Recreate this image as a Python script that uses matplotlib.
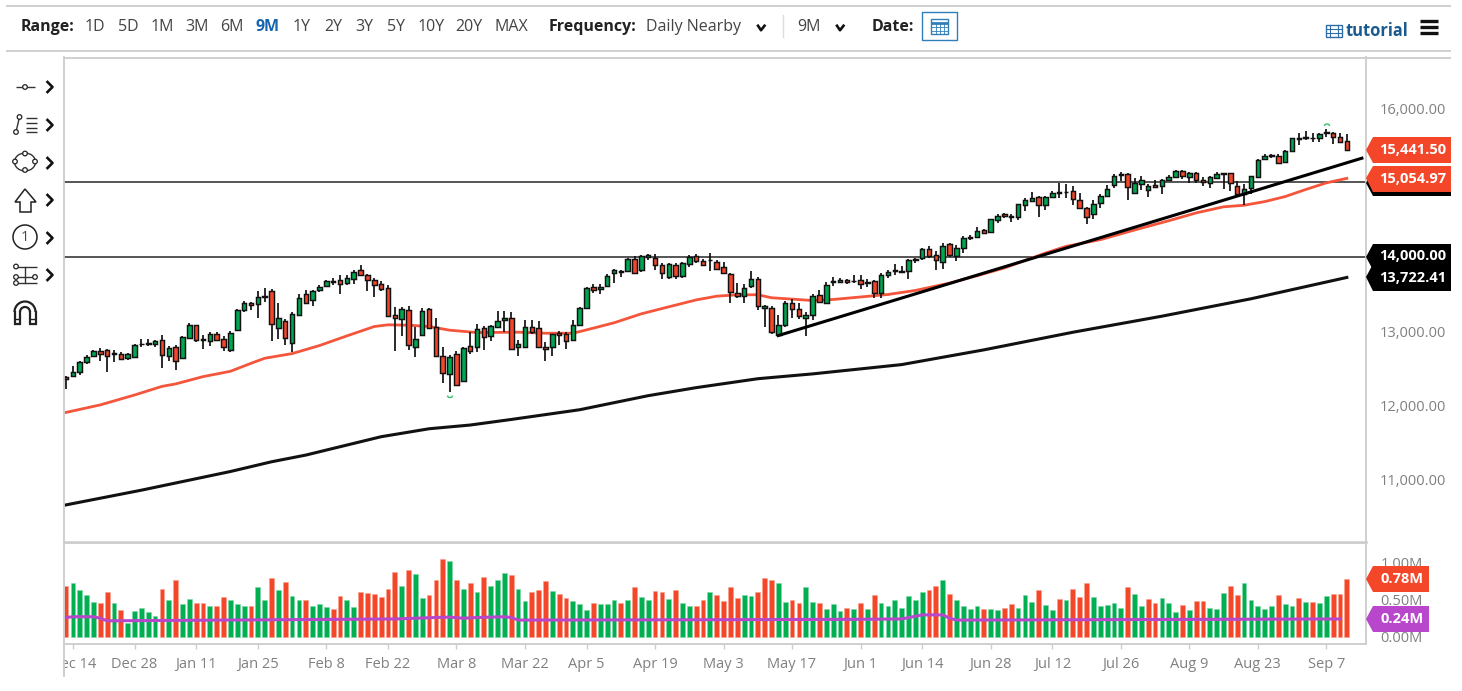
import matplotlib
matplotlib.use('Agg')
import matplotlib.pyplot as plt
from matplotlib.patches import Polygon, Rectangle, Circle, Ellipse, Arc
from matplotlib.transforms import Bbox

plt.rcParams['font.family'] = ['Open Sans', 'DejaVu Sans']

opens = [12380, 12393, 12456, 12586, 12667, 12730, 12748, 12703, 12694, 12645,
         12658, 12833, 12842, 12824, 12878, 12667, 12784, 12640, 12914, 13080,
         12896, 12865, 12959, 12896, 12752, 13017, 13278, 13381, 13368, 13471,
         13543, 13040, 13143, 12838, 13219, 13493, 13417, 13547, 13610, 13668,
         13691, 13650, 13700, 13817, 13749, 13691, 13628, 13574, 13215, 13161,
         13291, 12784, 12946, 13300, 13053, 12667, 12420, 12699, 12330, 12797,
         12784, 13040, 12937, 13054, 13148, 13175, 12784, 12793, 13054, 13036,
         12789, 12789, 12969, 12960, 12883, 13081, 13314, 13592, 13570, 13606,
         13781, 13808, 13808, 13970, 13817, 13992, 13979, 13889, 13727, 13889,
         13745, 13907, 14010, 13943, 13961, 13934, 13867, 13772, 13512, 13471,
         13601, 13705, 13309, 13314, 12950, 13076, 13372, 13292, 13175, 13211,
         13480, 13372, 13673, 13660, 13691, 13678, 13687, 13660, 13669, 13512,
         13759, 13817, 13808, 13803, 13974, 13979, 14100, 14024, 13925, 14172,
         14006, 14122, 14266, 14266, 14361, 14338, 14491, 14572, 14545, 14531,
         14693, 14756, 14801, 14698, 14810, 14873, 14877, 14891, 14769, 14662,
         14581, 14720, 14823, 14967, 15115, 15120, 14864, 14976, 14895, 14967,
         14954, 15030, 15075, 15156, 15079, 15124, 15039, 14998, 15066, 15129,
         15129, 14958, 14841, 14931, 15079, 15313, 15371, 15362, 15272, 15425,
         15600, 15605, 15600, 15591, 15672, 15663, 15605, 15555]
closes = [12357, 12447, 12582, 12658, 12739, 12694, 12667, 12694, 12631, 12690,
          12820, 12829, 12833, 12869, 12676, 12779, 12604, 12919, 13089, 12883,
          12887, 12959, 12887, 12784, 12973, 13287, 13381, 13350, 13457, 13457,
          13094, 13174, 12901, 13224, 13439, 13381, 13538, 13588, 13673, 13659,
          13633, 13718, 13799, 13758, 13686, 13623, 13565, 13210, 13179, 13296,
          12820, 12896, 13269, 13044, 12667, 12442, 12654, 12276, 12775, 12730,
          13031, 12919, 13063, 13130, 13180, 12766, 12829, 13054, 12986, 12784,
          12757, 12955, 12942, 12870, 13076, 13310, 13579, 13556, 13592, 13741,
          13821, 13799, 13970, 13786, 14006, 14019, 13894, 13781, 13907, 13741,
          13916, 13997, 13943, 13885, 13952, 13835, 13777, 13525, 13471, 13583,
          13696, 13341, 13332, 12986, 13085, 13372, 13296, 13197, 13220, 13471,
          13395, 13624, 13660, 13691, 13655, 13669, 13637, 13651, 13512, 13759,
          13795, 13804, 13799, 13952, 13952, 14109, 14006, 13952, 14149, 14019,
          14122, 14253, 14257, 14343, 14320, 14504, 14554, 14545, 14536, 14706,
          14769, 14792, 14698, 14801, 14859, 14864, 14868, 14778, 14657, 14531,
          14711, 14819, 14918, 15093, 15102, 14940, 14998, 15030, 14949, 14940,
          15034, 15070, 15156, 15088, 15124, 15039, 15003, 15070, 15120, 15120,
          14994, 14841, 14918, 15084, 15299, 15353, 15362, 15263, 15425, 15591,
          15578, 15591, 15591, 15645, 15663, 15614, 15546, 15441.5]
highs = [12393, 12528, 12604, 12685, 12752, 12770, 12761, 12748, 12717, 12703,
         12829, 12896, 12892, 12883, 12946, 12802, 12820, 12937, 13112, 13089,
         12950, 12986, 12995, 12928, 13008, 13300, 13403, 13390, 13538, 13583,
         13570, 13377, 13166, 13255, 13502, 13556, 13556, 13624, 13682, 13713,
         13749, 13749, 13817, 13893, 13772, 13718, 13673, 13615, 13323, 13323,
         13332, 13062, 13314, 13314, 13174, 12784, 12685, 12739, 12784, 12986,
         13098, 13067, 13076, 13269, 13265, 13256, 12883, 13144, 13153, 13135,
         12852, 12964, 12996, 12987, 13153, 13323, 13592, 13637, 13628, 13763,
         13840, 13826, 13983, 14006, 14028, 14042, 14033, 13916, 13916, 13920,
         13929, 14028, 14042, 13974, 14051, 13952, 13929, 13786, 13646, 13637,
         13808, 13727, 13345, 13332, 13211, 13404, 13435, 13377, 13256, 13503,
         13547, 13660, 13727, 13714, 13705, 13750, 13759, 13705, 13691, 13781,
         13817, 13907, 13871, 13974, 13988, 14122, 14140, 14077, 14185, 14190,
         14154, 14275, 14298, 14401, 14379, 14513, 14572, 14590, 14572, 14715,
         14796, 14873, 14814, 14814, 14882, 14994, 14985, 14958, 14859, 14671,
         14769, 14850, 14963, 15120, 15138, 15129, 15066, 15084, 14976, 15039,
         15052, 15097, 15165, 15165, 15138, 15138, 15075, 15084, 15138, 15129,
         15129, 15021, 14976, 15093, 15317, 15380, 15389, 15376, 15434, 15600,
         15668, 15690, 15668, 15668, 15713, 15681, 15668, 15658]
lows = [12223, 12380, 12411, 12559, 12658, 12595, 12447, 12582, 12613, 12618,
        12649, 12793, 12806, 12793, 12505, 12595, 12478, 12627, 12905, 12860,
        12757, 12806, 12874, 12730, 12716, 13008, 13264, 13287, 13179, 13390,
        12874, 12896, 12815, 12716, 13210, 13368, 13332, 13525, 13601, 13615,
        13502, 13615, 13637, 13736, 13534, 13457, 13538, 13201, 12739, 12941,
        12752, 12649, 12937, 13035, 12658, 12299, 12182, 12267, 12321, 12694,
        12716, 12753, 12865, 13045, 12986, 12753, 12672, 12784, 12955, 12775,
        12605, 12672, 12807, 12762, 12874, 13076, 13292, 13516, 13503, 13592,
        13646, 13727, 13795, 13772, 13795, 13952, 13817, 13705, 13705, 13696,
        13714, 13862, 13916, 13871, 13808, 13817, 13763, 13377, 13449, 13377,
        13583, 13287, 13054, 12964, 12928, 13054, 13175, 13166, 12937, 13144,
        13377, 13359, 13601, 13646, 13628, 13651, 13570, 13592, 13444, 13449,
        13718, 13750, 13790, 13705, 13916, 13952, 13988, 13817, 13830, 13997,
        13943, 14055, 14221, 14257, 14302, 14329, 14455, 14527, 14464, 14500,
        14612, 14738, 14536, 14635, 14796, 14787, 14796, 14702, 14648, 14437,
        14513, 14662, 14814, 14927, 15021, 14769, 14850, 14904, 14805, 14931,
        14841, 15017, 15066, 15043, 14994, 14994, 14958, 14931, 15052, 14913,
        14886, 14814, 14693, 14850, 15070, 15299, 15335, 15254, 15263, 15416,
        15510, 15569, 15546, 15546, 15605, 15515, 15537, 15425]

volumes = [.68, .72, .63, .56, .47, .46, .61, .46, .36, .18,
           .35, .39, .34, .28, .65, .49, .76, .44, .51, .46,
           .46, .42, .42, .54, .49, .44, .42, .41, .67, .50,
           .79, .63, .74, .55, .50, .50, .41, .44, .40, .37,
           .55, .50, .40, .61, .59, .58, .54, .65, .87, .68,
           .90, .85, .52, .56, .76, 1.05, 1.02, .76, .65, .73,
           .60, .81, .68, .77, .86, .83, .64, .48, .61, .63,
           .75, .62, .58, .52, .48, .44, .36, .46, .44, .44,
           .50, .46, .49, .67, .53, .50, .62, .61, .51, .63,
           .45, .41, .41, .50, .60, .56, .48, .67, .52, .57,
           .55, .61, .79, .77, .73, .47, .49, .45, .67, .47,
           .46, .37, .44, .35, .39, .37, .45, .37, .56, .45,
           .41, .50, .39, .55, .49, .61, .63, .69, .77, .58,
           .50, .42, .37, .41, .38, .38, .36, .39, .44, .39,
           .56, .47, .63, .43, .36, .51, .50, .64, .54, .72,
           .53, .41, .43, .45, .39, .67, .58, .41, .51, .45,
           .52, .45, .34, .43, .36, .48, .48, .39, .37, .59,
           .68, .57, .73, .50, .41, .37, .41, .56, .44, .42,
           .52, .47, .47, .46, .55, .58, .58, .78]
volume_dirs = ('RGGGGRRGRG' 'GGGGRGRGGR' 'RGRRGGGRGG' 'RGRGGRGGGR' 'RGGRRRRRRG'
               'RGGRRRGRGR' 'GRGGGRGGRR' 'RGRRGGGRGG' 'GRGRGGRRGR' 'GGRRGRRRRG'
               'GRRRGGRRGG' 'RGGGRGRGRG' 'GGGGGGRRGR' 'GGGGRGGRRG' 'GGRGGRGRRR'
               'GGGGGRGGRR' 'GGGRGRRGGG' 'RRGGGGGRGG' 'RGRGGRRR')

# moving averages, read at a few bars each
ma50_bars = [0, 5, 10, 14, 16, 20, 24, 27, 29, 33, 37, 41, 45, 47, 50, 53, 56, 60, 63, 66, 70, 74,
             76, 80, 84, 88, 92, 95, 98, 101, 103, 109, 112, 120, 124, 129, 133, 137, 143, 146,
             151, 156, 161, 165, 169, 172, 175, 178, 181, 184, 187]
ma50 = [11907, 12008, 12141, 12257, 12290, 12388, 12460, 12567, 12635, 12698, 12806, 12936, 13062,
        13085, 13080, 13062, 13013, 12981, 12983, 12986, 12972, 12972, 13017, 13112, 13233, 13327,
        13420, 13470, 13489, 13489, 13449, 13412, 13426, 13493, 13547, 13646, 13745, 13850, 14050,
        14140, 14230, 14360, 14485, 14590, 14672, 14693, 14742, 14810, 14905, 14994, 15055]
ma200_bars = [0, 11, 24, 30, 35, 46, 53, 59, 65, 75, 85, 92, 101, 109, 122, 134, 147, 160, 173, 187]
ma200 = [10663, 10861, 11112, 11243, 11333, 11580, 11687, 11737, 11812, 11943, 12132, 12240, 12360,
         12425, 12550, 12748, 12985, 13201, 13435, 13722]
vol_ma_bars = [0, 1, 4, 5, 6, 14, 40, 48, 54, 56, 58, 60, 64, 65, 66, 95, 115, 122, 125, 128, 129, 130, 186]
vol_ma = [.26, .27, .27, .25, .215, .22, .235, .24, .26, .265, .25, .26, .27, .26, .225, .23, .235, .24,
          .295, .295, .25, .225, .24]
trend_bars = [104, 189.2]
trend_vals = [12941, 15326]
levels = [15000, 14000]

price_ticks = [16000, 15000, 14000, 13000, 12000, 11000]
price_tick_labels = ['16,000.00', '', '', '13,000.00', '12,000.00', '11,000.00']
vol_ticks = [1.0, 0.5, 0.0]
vol_tick_labels = ['1.00M', '0.50M', '0.00M']
date_bars = [1, 10, 19, 28, 38, 47, 57, 67, 76, 86, 96, 106, 116, 125, 135, 144, 154, 164, 174, 184]
date_labels = ['Dec 14', 'Dec 28', 'Jan 11', 'Jan 25', 'Feb 8', 'Feb 22', 'Mar 8', 'Mar 22', 'Apr 5',
               'Apr 19', 'May 3', 'May 17', 'Jun 1', 'Jun 14', 'Jun 28', 'Jul 12', 'Jul 26', 'Aug 9',
               'Aug 23', 'Sep 7']
range_labels = ['1D', '5D', '1M', '3M', '6M', '9M', '1Y', '2Y', '3Y', '5Y', '10Y', '20Y', 'MAX']

RED = '#F4472A'
GREEN = '#00B050'
CANDLE_GREEN = '#00A651'
PURPLE = '#B847CC'
GRID = '#CCCCCC'
TICK = '#808080'
BLUE = '#1565B0'

W, H = 1462, 691
fig = plt.figure(figsize=(W / 100, H / 100), dpi=100)


def px_axes(left, top, right, bottom):
    return fig.add_axes([left / W, 1 - bottom / H, (right - left) / W, (bottom - top) / H])


ax = px_axes(64, 57, 1366, 542)
ax_vol = px_axes(64, 543, 1366, 644)
bars = range(len(closes))

ax.set_xlim(-0.3, 189.8)
ax.set_ylim(10164, 16687)
ax_vol.set_xlim(-0.3, 189.8)
ax_vol.set_ylim(-0.098, 1.266)

# candles
ax.vlines(bars, lows, highs, color='#111111', lw=1.25, zorder=3)
for i in bars:
    col = CANDLE_GREEN if closes[i] >= opens[i] else RED
    ax.bar(i, abs(closes[i] - opens[i]), bottom=min(opens[i], closes[i]), width=0.66, color=col,
           edgecolor='#111111', lw=1.05, zorder=4)

ax.hlines(levels, -0.3, 189.8, color='#555555', lw=1.4, zorder=2)
ax.plot(ma50_bars, ma50, color='#F4553B', lw=2, zorder=2.5)
ax.plot(ma200_bars, ma200, color='#111111', lw=2.2, zorder=2.5)
ax.plot(trend_bars, trend_vals, color='#000000', lw=2.2, zorder=5)

for i in bars:
    col = GREEN if volume_dirs[i] == 'G' else RED
    edge = '#7FD7A8' if volume_dirs[i] == 'G' else '#F9A08C'
    ax_vol.bar(i, volumes[i], width=0.7, color=col, edgecolor=edge, lw=0.4)
ax_vol.plot(vol_ma_bars, vol_ma, color=PURPLE, lw=2.2, zorder=5)

for a in (ax, ax_vol):
    for s in a.spines.values():
        s.set_color(GRID)
        s.set_linewidth(1.3)
    a.spines['left'].set_visible(False)
ax.spines['top'].set_visible(False)
ax.spines['bottom'].set_linewidth(1.8)

ax.set_xticks([])
ax.yaxis.tick_right()
ax.set_yticks(price_ticks)
ax.set_yticklabels(price_tick_labels, color=TICK, fontsize=10.5)
ax.tick_params(axis='y', length=0, pad=10)

ax_vol.yaxis.tick_right()
ax_vol.set_yticks(vol_ticks)
ax_vol.set_yticklabels(vol_tick_labels, color=TICK, fontsize=10.5)
ax_vol.tick_params(axis='y', length=0, pad=10.5)
ax_vol.set_xticks(date_bars)
ax_vol.set_xticklabels(date_labels, color=TICK, fontsize=10.5)
ax_vol.tick_params(axis='x', length=3.5, width=1, color=GRID, pad=6)
for lab in ax_vol.get_xticklabels():
    lab.set_clip_on(True)
    lab.set_clip_box(Bbox([[63, 0], [W, H]]))

# overlay in picture pixels for the toolbar, drawing tools and price tags
ov = fig.add_axes([0, 0, 1, 1], zorder=10)
ov.set_xlim(0, W)
ov.set_ylim(H, 0)
ov.axis('off')
ov.patch.set_alpha(0)


def hline(x0, x1, y, col=GRID, lw=1.3):
    ov.plot([x0, x1], [y, y], color=col, lw=lw, solid_capstyle='butt')


def chevron(x, y, size=4.5, col='#111111', lw=1.9):
    ov.plot([x - size / 1.5, x, x + size / 1.5 + 0.5], [y - size / 2, y + size / 2, y - size / 2], color=col, lw=lw)


def right_chevron(x, y):
    ov.plot([x, x + 5, x], [y - 5, y, y + 5], color='#111111', lw=1.9)


def ring(x, y, r=2.3):
    ov.add_patch(Circle((x, y), r, fc='white', ec='#222222', lw=0.9, zorder=6))


def tag(y, y0, y1, x1, col, label):
    poly = [(1366, y), (1373, y0), (x1, y0), (x1, y1), (1373, y1)]
    ov.add_patch(Polygon(poly, closed=True, fc=col, ec='none', zorder=7))
    ov.text(x1 - 5, (y0 + y1) / 2, label, color='white', fontsize=10.5, fontweight='bold', ha='right',
            va='center', zorder=8)


hline(6, 1451, 5.5)
hline(6, 1451, 51)
hline(63, 1451, 57.5)
ov.plot([63.5, 63.5], [57, 676], color=GRID, lw=1.3)

ov.text(21, 26.5, 'Range:', fontsize=11.5, fontweight='bold', color='#222222', va='center')
range_x = [95, 128, 162, 197, 232, 268, 302, 333, 364, 396, 431, 469, 511]
for xp, lab in zip(range_x, range_labels):
    sel = lab == '9M'
    ov.text(xp, 26.5, lab, fontsize=11.5, ha='center', va='center', color=BLUE if sel else '#444444',
            fontweight='bold' if sel else 'normal')
ov.text(549, 26.5, 'Frequency:', fontsize=11.5, fontweight='bold', color='#222222', va='center')
ov.text(646, 26.5, 'Daily Nearby', fontsize=11.5, color='#444444', va='center')
chevron(761, 28)
ov.plot([783, 783], [15, 37], color='#DDDDDD', lw=1)
ov.text(797, 26.5, '9M', fontsize=11.5, color='#444444', va='center')
chevron(840, 28)
ov.text(872, 26.5, 'Date:', fontsize=11.5, fontweight='bold', color='#222222', va='center')
ov.add_patch(Rectangle((922, 12), 34.5, 28, fc='white', ec='#2F7FB8', lw=1))
ov.add_patch(Rectangle((931, 19), 16.5, 15, fc='white', ec='#2F7FB8', lw=1))
hline(931, 947.5, 22.5, '#2F7FB8', 2)
for xc in (935.5, 939.5, 943.5):
    ov.plot([xc, xc], [24, 34], color='#2F7FB8', lw=0.6)
for yc in (27, 30.5):
    hline(931, 947.5, yc, '#2F7FB8', 0.6)

ov.add_patch(Rectangle((1326, 24.5), 15.5, 12.5, fc='white', ec='#2F6EA5', lw=1))
for xc in (1330, 1338):
    ov.plot([xc, xc], [24.5, 37], color='#2F6EA5', lw=0.8)
hline(1326, 1342, 29, '#2F6EA5', 0.8)
hline(1326, 1342, 33, '#2F6EA5', 0.8)
ov.text(1346, 31, 'tutorial', fontsize=11.9, fontweight='bold', color='#1A5A8F', va='center')
for yc in (20.5, 27, 33):
    hline(1420, 1438, yc, '#111111', 2.4)

# drawing tools
for yc in (87, 125, 163, 200, 238, 275):
    right_chevron(47.5, yc)
hline(16, 35, 87, '#333333', 1)
ring(25, 87)
ov.plot([16, 19.5], [132, 117], color='#333333', lw=1)
for yc in (118, 123, 128, 132):
    hline(26, 37, yc, '#333333', 1)
ring(19.5, 117)
ring(16, 132)
ov.add_patch(Ellipse((25, 162), 21, 18, fc='none', ec='#333333', lw=1))
for xc, yc in ((25, 153.5), (15, 161.5), (35, 161.5), (25, 170)):
    ring(xc, yc)
ov.add_patch(Polygon([(25, 189), (15, 202), (20, 202), (20, 212), (31, 212), (31, 202), (36, 202)],
                     closed=True, fc='white', ec='#222222', lw=1.1))
ov.add_patch(Circle((25, 237), 12, fc='white', ec='#222222', lw=1.1))
ov.text(25, 237, '1', fontsize=10.5, ha='center', va='center', color='#444444')
hline(16, 37, 267, '#333333', 1)
hline(16, 35, 277, '#333333', 1)
hline(16, 37, 283, '#333333', 1)
ov.plot([25, 25], [267, 283], color='#333333', lw=1)
for xc, yc in ((16, 266.5), (16, 277), (16, 283), (35, 277)):
    ring(xc, yc)
ov.add_patch(Arc((25, 312), 21, 21, theta1=180, theta2=360, ec='#222222', lw=1.6))
ov.add_patch(Arc((25, 312), 10, 10, theta1=180, theta2=360, ec='#222222', lw=1.6))
for xc in (14.5, 20, 30, 35.5):
    ov.plot([xc, xc], [312, 323.5], color='#222222', lw=1.6)
hline(14.5, 20, 323.5, '#222222', 1.6)
hline(30, 35.5, 323.5, '#222222', 1.6)
hline(14.5, 20, 318.5, '#222222', 1)
hline(30, 35.5, 318.5, '#222222', 1)

# swing markers
ov.add_patch(Arc((450, 395.5), 5, 4, theta1=0, theta2=180, ec='#2FC26B', lw=1))
ov.add_patch(Arc((1327, 126), 5, 4, theta1=180, theta2=360, ec='#2FC26B', lw=1))

# price tags
tag(150, 137, 163, 1451, RED, '15,441.50')
ov.add_patch(Polygon([(1366, 183), (1373, 171), (1451, 171), (1451, 196), (1373, 196)], closed=True,
                     fc='#000000', ec='none', zorder=6))
tag(178, 166, 192, 1451, RED, '15,054.97')
ov.add_patch(Polygon([(1366, 257), (1373, 244), (1451, 244), (1451, 270), (1373, 270)], closed=True,
                     fc='#000000', ec='none', zorder=6))
ov.text(1446, 256, '14,000.00', color='white', fontsize=10.5, fontweight='bold', ha='right', va='center', zorder=8)
tag(277, 264, 291, 1451, '#000000', '13,722.41')
tag(579, 566, 592, 1429, RED, '0.78M')
tag(619, 606, 632, 1429, PURPLE, '0.24M')

fig.savefig('out.png', dpi=100)
